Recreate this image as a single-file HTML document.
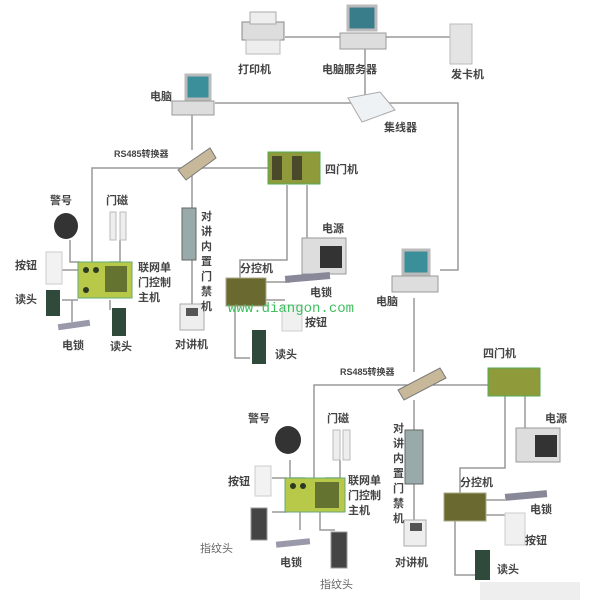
<!DOCTYPE html>
<html><head><meta charset="utf-8">
<style>
html,body{margin:0;padding:0;background:#fff;}
svg{display:block;}
text{font-family:"Liberation Sans","Noto Sans CJK SC",sans-serif;font-size:11px;fill:#444;font-weight:bold;}
</style></head><body>
<svg width="601" height="610" viewBox="0 0 601 610" xmlns="http://www.w3.org/2000/svg">
<rect width="601" height="610" fill="#fff"/>
<g stroke="#999" stroke-width="1.5" fill="none">
<!-- top network -->
<path d="M285 37H450"/>
<path d="M365 45V100"/>
<path d="M215 103H458V270H440"/>
<path d="M192 115V150"/>
<path d="M92 270V168H270"/>
<path d="M192 175V310"/>
<path d="M287 185V260H240V280"/>
<path d="M307 185V255H315"/>
<path d="M235 300V358H250"/>
<path d="M265 282H290 M265 300H285"/>
<path d="M70 240V262H80 M120 240V262H110 M62 270H78 M62 300H78 M72 300V322 M110 300V310"/>
<!-- bottom -->
<path d="M414 298V372"/>
<path d="M314 478V385H490"/>
<path d="M414 400V520"/>
<path d="M505 395V468H460V493"/>
<path d="M525 395V440"/>
<path d="M455 518V575H475"/>
<path d="M485 500H505 M485 515H505"/>
<path d="M290 460V478H305 M340 460V478H325 M272 478H287 M272 512H287 M300 510V530 M320 510V530H335"/>
</g>
<!-- printer -->
<rect x="242" y="22" width="42" height="18" fill="#ddd" stroke="#888"/>
<rect x="250" y="12" width="26" height="12" fill="#eee" stroke="#aaa"/>
<rect x="246" y="40" width="34" height="14" fill="#eee" stroke="#bbb"/>
<!-- server computer -->
<rect x="348" y="6" width="28" height="24" fill="#3a7d8a" stroke="#bbb" stroke-width="3"/>
<rect x="340" y="33" width="46" height="16" fill="#ddd" stroke="#999"/>
<!-- card machine -->
<rect x="450" y="24" width="22" height="40" fill="#e4e4e4" stroke="#bbb"/>
<!-- hub -->
<polygon points="348,98 380,92 395,110 362,122" fill="#eef2f5" stroke="#aaa"/>
<!-- left computer -->
<rect x="186" y="75" width="24" height="24" fill="#3a8f9a" stroke="#bbb" stroke-width="3"/>
<rect x="172" y="101" width="42" height="14" fill="#ddd" stroke="#999"/>
<!-- RS485 1 -->
<polygon points="178,170 210,148 216,158 186,180" fill="#c8b89a" stroke="#777"/>
<!-- four door 1 -->
<rect x="268" y="152" width="52" height="32" fill="#8f9a3a" stroke="#5a5" />
<rect x="272" y="156" width="10" height="24" fill="#4a4a2a"/><rect x="292" y="156" width="10" height="24" fill="#4a4a2a"/>
<!-- horn -->
<ellipse cx="66" cy="226" rx="12" ry="13" fill="#333"/>
<!-- door sensor -->
<rect x="110" y="212" width="6" height="28" fill="#eee" stroke="#bbb"/><rect x="120" y="212" width="6" height="28" fill="#eee" stroke="#bbb"/>
<!-- button -->
<rect x="46" y="252" width="16" height="32" fill="#f2f2f2" stroke="#ccc"/>
<!-- controller -->
<rect x="78" y="262" width="54" height="36" fill="#b8c848" stroke="#6a7"/>
<g fill="#2c3a20"><circle cx="86" cy="270" r="3"/><circle cx="96" cy="270" r="3"/><circle cx="86" cy="290" r="3"/><rect x="105" y="266" width="22" height="26" opacity=".6"/></g>
<!-- readers -->
<rect x="46" y="290" width="14" height="26" fill="#2f4a3a"/>
<rect x="112" y="308" width="14" height="28" fill="#2f4a3a"/>
<rect x="58" y="322" width="32" height="6" fill="#99a" transform="rotate(-8 74 325)"/>
<!-- intercom panel -->
<rect x="182" y="208" width="14" height="52" fill="#9aa" stroke="#666"/>
<rect x="180" y="304" width="24" height="26" fill="#eee" stroke="#aaa"/><rect x="186" y="308" width="12" height="8" fill="#555"/>
<!-- power box -->
<rect x="302" y="238" width="44" height="36" fill="#ddd" stroke="#999"/><rect x="320" y="246" width="22" height="22" fill="#333"/>
<!-- sub controller -->
<rect x="226" y="278" width="40" height="28" fill="#6a6a30" stroke="#aa8"/>
<rect x="285" y="274" width="45" height="7" fill="#889" transform="rotate(-5 307 277)"/>
<rect x="282" y="305" width="20" height="26" fill="#f0f0f0" stroke="#ccc"/>
<rect x="252" y="330" width="14" height="34" fill="#2f4a3a"/>
<!-- right computer -->
<rect x="403" y="250" width="26" height="24" fill="#3a8f9a" stroke="#bbb" stroke-width="3"/>
<rect x="392" y="276" width="46" height="16" fill="#ddd" stroke="#999"/>
<!-- RS485 2 -->
<polygon points="398,390 440,368 446,378 404,400" fill="#c8b89a" stroke="#777"/>
<!-- four door 2 -->
<rect x="488" y="368" width="52" height="28" fill="#8f9a3a" stroke="#5a5"/>
<!-- power 2 -->
<rect x="516" y="428" width="44" height="34" fill="#ddd" stroke="#999"/><rect x="535" y="435" width="22" height="22" fill="#333"/>
<!-- intercom 2 -->
<rect x="405" y="430" width="18" height="54" fill="#9aa" stroke="#666"/>
<rect x="404" y="520" width="22" height="26" fill="#eee" stroke="#aaa"/><rect x="410" y="523" width="12" height="8" fill="#555"/>
<!-- horn 2, door sensor 2 -->
<ellipse cx="288" cy="440" rx="13" ry="14" fill="#333"/>
<rect x="333" y="430" width="7" height="30" fill="#eee" stroke="#bbb"/><rect x="343" y="430" width="7" height="30" fill="#eee" stroke="#bbb"/>
<rect x="255" y="466" width="16" height="30" fill="#f2f2f2" stroke="#ccc"/>
<!-- controller 2 -->
<rect x="285" y="478" width="60" height="34" fill="#b8c848" stroke="#6a7"/>
<g fill="#2c3a20"><circle cx="293" cy="486" r="3"/><circle cx="303" cy="486" r="3"/><rect x="315" y="482" width="24" height="26" opacity=".6"/></g>
<rect x="251" y="508" width="16" height="32" fill="#444" stroke="#999"/>
<rect x="331" y="532" width="16" height="36" fill="#444" stroke="#999"/>
<rect x="276" y="540" width="34" height="6" fill="#99a" transform="rotate(-6 293 543)"/>
<!-- sub controller 2 -->
<rect x="444" y="493" width="42" height="28" fill="#6a6a30" stroke="#aa8"/>
<rect x="505" y="492" width="42" height="7" fill="#889" transform="rotate(-5 526 495)"/>
<rect x="505" y="513" width="20" height="32" fill="#f0f0f0" stroke="#ccc"/>
<rect x="475" y="550" width="15" height="30" fill="#2f4a3a"/>
<rect x="480" y="582" width="100" height="18" fill="#eee"/>
<!-- labels -->
<text x="238" y="73">打印机</text>
<text x="322" y="73">电脑服务器</text>
<text x="451" y="78">发卡机</text>
<text x="150" y="100">电脑</text>
<text x="384" y="131">集线器</text>
<text x="114" y="157" style="font-size:9px">RS485转换器</text>
<text x="325" y="173">四门机</text>
<text x="50" y="204">警号</text>
<text x="106" y="204">门磁</text>
<text x="322" y="232">电源</text>
<text x="15" y="269">按钮</text>
<text x="15" y="303">读头</text>
<text x="138" y="271">联网单</text>
<text x="138" y="286">门控制</text>
<text x="138" y="301">主机</text>
<text x="240" y="272">分控机</text>
<text x="310" y="296">电锁</text>
<text x="305" y="326">按钮</text>
<text x="62" y="349">电锁</text>
<text x="110" y="350">读头</text>
<text x="175" y="348">对讲机</text>
<text x="275" y="358">读头</text>
<text x="376" y="305">电脑</text>
<g><text x="201" y="220">对</text><text x="201" y="235">讲</text><text x="201" y="250">内</text><text x="201" y="265">置</text><text x="201" y="280">门</text><text x="201" y="295">禁</text><text x="201" y="310">机</text></g>
<text x="228" y="312" style="font-family:'Liberation Mono',monospace;font-size:14px;fill:#3fbf5f;font-weight:normal">www.diangon.com</text>
<text x="340" y="375" style="font-size:9px">RS485转换器</text>
<text x="483" y="357">四门机</text>
<text x="248" y="422">警号</text>
<text x="327" y="422">门磁</text>
<text x="545" y="422">电源</text>
<text x="228" y="485">按钮</text>
<text x="348" y="484">联网单</text>
<text x="348" y="499">门控制</text>
<text x="348" y="514">主机</text>
<text x="460" y="486">分控机</text>
<text x="530" y="513">电锁</text>
<text x="525" y="544">按钮</text>
<text x="200" y="552" style="font-weight:normal;fill:#666">指纹头</text>
<text x="280" y="566">电锁</text>
<text x="320" y="588" style="font-weight:normal;fill:#666">指纹头</text>
<text x="395" y="566">对讲机</text>
<text x="497" y="573">读头</text>
<g><text x="393" y="432">对</text><text x="393" y="447">讲</text><text x="393" y="462">内</text><text x="393" y="477">置</text><text x="393" y="492">门</text><text x="393" y="507">禁</text><text x="393" y="522">机</text></g>
</svg>
</body></html>
